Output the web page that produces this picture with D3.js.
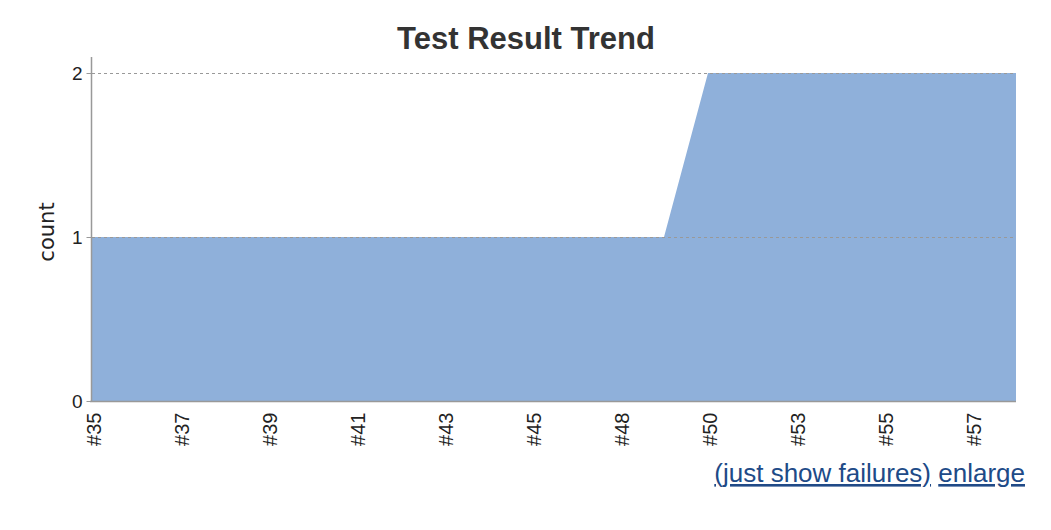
<!DOCTYPE html>
<html><head><meta charset="utf-8">
<script src="https://cdn.jsdelivr.net/npm/d3@7"></script>
<style>
html,body{margin:0;padding:0;background:#fff;}
svg{display:block;}
</style></head>
<body>
<svg id="chart" width="1051" height="530"></svg>
<script>
const builds = ["#35","#36","#37","#38","#39","#40","#41","#42","#43","#44","#45","#46","#48","#49","#50","#51","#53","#54","#55","#56","#57","#58"];
const counts = [1,1,1,1,1,1,1,1,1,1,1,1,1,1,2,2,2,2,2,2,2,2];
const yTicks = [0,1,2];
const titleText = "Test Result Trend";
const yLabel = "count";
const links = ["(just show failures)", "enlarge"];

const svg = d3.select("#chart");
const pLeft = 92, pRight = 1016, pTop = 73, pBottom = 401;

const x = d3.scalePoint().domain(builds).range([pLeft, pRight]);
const y = d3.scaleLinear().domain([0, 2]).range([pBottom, pTop]);

// area
const area = d3.area()
  .x((d, i) => x(builds[i]))
  .y0(y(0))
  .y1(d => y(d));
svg.append("path").datum(counts)
  .attr("d", area)
  .attr("fill", "#8fb0da");

// gridlines
svg.append("g").selectAll("line").data(yTicks.filter(t => t > 0)).join("line")
  .attr("x1", pLeft).attr("x2", pRight)
  .attr("y1", d => y(d) + 0.5).attr("y2", d => y(d) + 0.5)
  .attr("stroke", "#999").attr("stroke-width", 1)
  .attr("stroke-dasharray", "3,3");

// y axis
const yAxis = d3.axisLeft(y).tickValues(yTicks).tickFormat(d3.format("d")).tickSize(5).tickPadding(4);
const yg = svg.append("g").attr("transform", `translate(${pLeft - 0.5},0)`).call(yAxis);
yg.select(".domain").attr("stroke", "#999").attr("stroke-width", 1.5).attr("d", `M0,${pTop - 16}V${pBottom}`);
yg.selectAll(".tick line").attr("stroke", "#999");
yg.selectAll(".tick text").attr("font-family", "Liberation Sans, Arial, sans-serif").attr("font-size", 19).attr("fill", "#222");

// x axis
const xAxis = d3.axisBottom(x).tickValues(builds.filter((b, i) => i % 2 === 0)).tickSize(0).tickPadding(0);
const xg = svg.append("g").attr("transform", `translate(0,${pBottom + 0.5})`).call(xAxis);
xg.select(".domain").attr("stroke", "#999").attr("stroke-width", 1.5).attr("d", `M${pLeft - 2},0H${pRight}`);
xg.selectAll(".tick text")
  .attr("font-family", "Liberation Sans, Arial, sans-serif").attr("font-size", 20).attr("fill", "#222")
  .attr("transform", "rotate(-90)")
  .attr("text-anchor", "end")
  .attr("x", -11).attr("y", 1).attr("dy", "0.35em");

// title
svg.append("text").attr("x", 526).attr("y", 49)
  .attr("text-anchor", "middle")
  .attr("font-family", "Liberation Sans, Arial, sans-serif")
  .attr("font-weight", "bold").attr("font-size", 31).attr("fill", "#333")
  .text(titleText);

// y label
svg.append("text").attr("transform", "translate(54,232) rotate(-90)")
  .attr("text-anchor", "middle")
  .attr("font-family", "DejaVu Sans, sans-serif").attr("font-size", 21).attr("fill", "#222")
  .text(yLabel);

// links
const lt = svg.append("text").attr("x", 1025).attr("y", 482)
  .attr("text-anchor", "end")
  .attr("font-family", "Liberation Sans, Arial, sans-serif").attr("font-size", 26).attr("fill", "#204a87");
lt.append("tspan").attr("text-decoration", "underline").text(links[0]);
lt.append("tspan").text(" ");
lt.append("tspan").attr("text-decoration", "underline").text(links[1]);
</script>
</body></html>
